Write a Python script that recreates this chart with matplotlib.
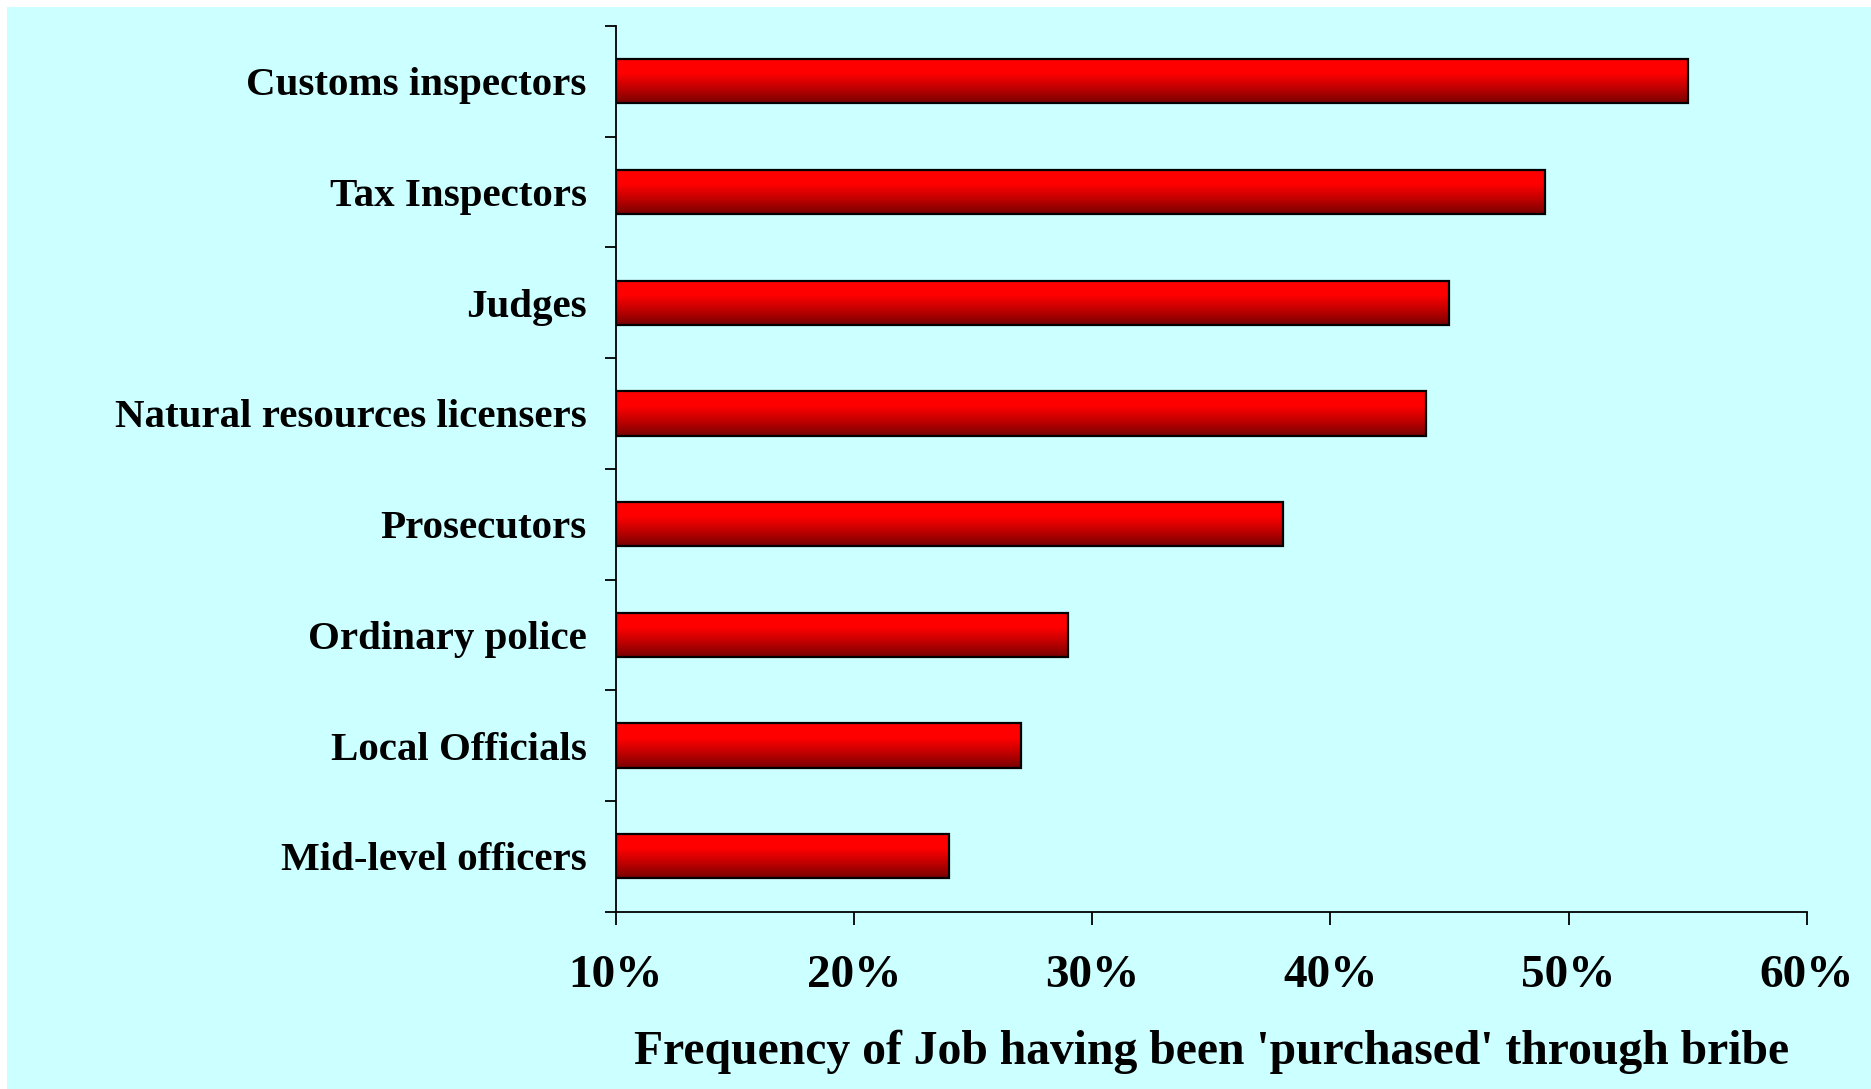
import matplotlib.pyplot as plt
import numpy as np
from matplotlib.colors import LinearSegmentedColormap
from matplotlib.ticker import FixedLocator, FuncFormatter

jobs = ['Customs inspectors', 'Tax Inspectors', 'Judges', 'Natural resources licensers',
        'Prosecutors', 'Ordinary police', 'Local Officials', 'Mid-level officers']
share = [55, 49, 45, 44, 38, 29, 27, 24]
x_ticks = [10, 20, 30, 40, 50, 60]

plt.rcParams['font.family'] = 'Liberation Serif'
plt.rcParams['font.weight'] = 'bold'

fig = plt.figure(figsize=(18.71, 10.89), dpi=100)
fig.patch.set_facecolor('white')
# cyan background with thin white strip at left and top
fig.patches.append(plt.Rectangle((7 / 1871, 0), 1, 1 - 7 / 1089, transform=fig.transFigure,
                                 facecolor='#CCFFFF', edgecolor='none', zorder=-5))
ax = fig.add_axes([615.7 / 1871, 1 - 911.7 / 1089, (1806.7 - 615.7) / 1871, (911.7 - 26) / 1089])
ax.set_facecolor('none')

# bars start where the value axis begins (10%)
base = x_ticks[0]
y = np.arange(len(jobs))
bars = ax.barh(y, np.array(share) - base, height=0.4, left=base, color='none',
               edgecolor='black', linewidth=1.6, zorder=3)

cmap = LinearSegmentedColormap.from_list('bar', ['#FF0000', '#FF0000', '#C00000', '#780000'])
grad = np.linspace(0, 1, 256).reshape(-1, 1)
for b in bars:
    x0, y0 = b.get_x(), b.get_y()
    w, h = b.get_width(), b.get_height()
    im = ax.imshow(grad, cmap=cmap, aspect='auto', extent=(x0, x0 + w, y0 + h, y0),
                   origin='upper', zorder=2)
    im.set_clip_path(b)

ax.set_xlim(10, 60)
ax.set_ylim(len(jobs) - 0.5, -0.5)

ax.set_yticks(y)
ax.set_yticklabels(jobs, fontsize=29.5, fontweight='bold')
ax.yaxis.set_minor_locator(FixedLocator(np.arange(-0.5, len(jobs), 1)))
ax.tick_params(axis='y', which='major', length=0, pad=21)
ax.tick_params(axis='y', which='minor', length=8, width=1.3)

ax.set_xticks(x_ticks)
ax.xaxis.set_major_formatter(FuncFormatter(lambda v, p: f'{v:.0f}%'))
ax.tick_params(axis='x', length=9, width=1.3, labelsize=34, pad=22.5)
for lab in ax.get_xticklabels():
    lab.set_fontweight('bold')

ax.spines['top'].set_visible(False)
ax.spines['right'].set_visible(False)
for s in ('left', 'bottom'):
    ax.spines[s].set_linewidth(1.3)

ax.set_xlabel("Frequency of Job having been 'purchased' through bribe",
              fontsize=34.3, fontweight='bold', labelpad=23)

fig.savefig('out.png', dpi=100, facecolor=fig.get_facecolor())
